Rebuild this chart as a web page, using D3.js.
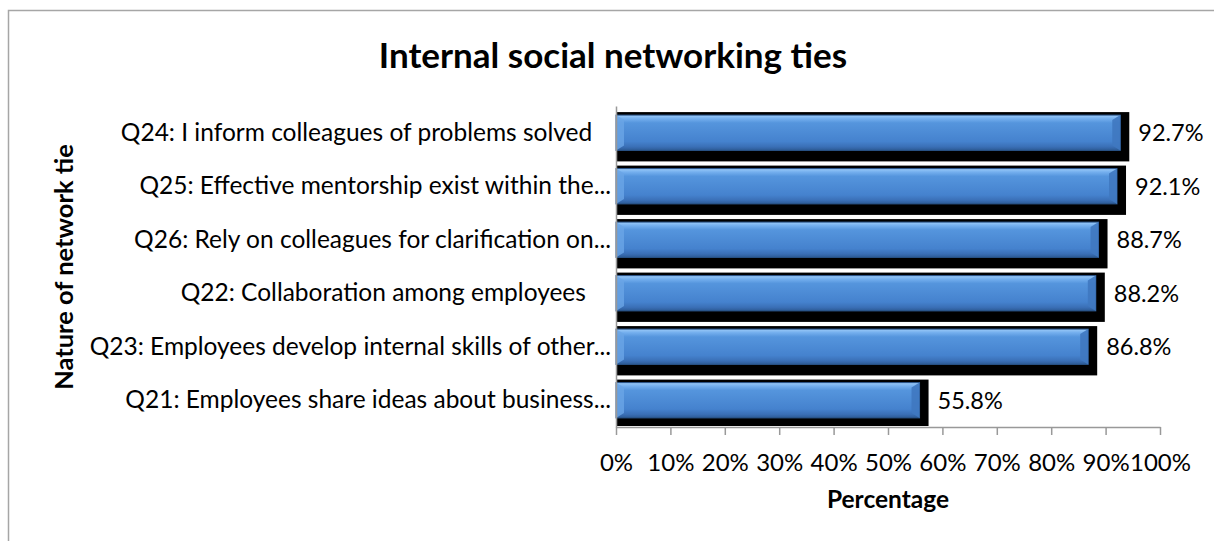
<!DOCTYPE html>
<html>
<head>
<meta charset="utf-8">
<script src="https://cdn.jsdelivr.net/npm/d3@7"></script>
<style>
  body { margin: 0; background: #fff; }
  svg text { font-family: Lato, "Open Sans", sans-serif; fill: #000; }
</style>
</head>
<body>
<svg id="chart" width="1214" height="541"></svg>
<script>
// data, top to bottom as in the picture (trailing spaces are in the original labels)
const categories = [
    "Q24: I inform colleagues of problems solved   ",
    "Q25: Effective mentorship exist within the...",
    "Q26: Rely on colleagues for clarification on...",
    "Q22: Collaboration among employees    ",
    "Q23: Employees develop internal skills of other...",
    "Q21: Employees share ideas about business..."
];
const values = [92.7, 92.1, 88.7, 88.2, 86.8, 55.8];
const tickValues = [0, 10, 20, 30, 40, 50, 60, 70, 80, 90, 100];

const chartTitle = "Internal social networking ties";
const xTitle = "Percentage";
const yTitle = "Nature of network tie";

const svg = d3.select("#chart");
const margin = { top: 106, left: 616, right: 54, bottom: 114 };
const width = 1214 - margin.left - margin.right;
const height = 541 - margin.top - margin.bottom;

// chart frame (only top / left edge visible in the picture)
svg.append("rect")
    .attr("x", 8.5).attr("y", 10.5)
    .attr("width", 1300).attr("height", 700)
    .attr("fill", "none").attr("stroke", "#a6a6a6").attr("stroke-width", 1.5);

// bar gradient
const defs = svg.append("defs");
const grad = defs.append("linearGradient")
    .attr("id", "barGrad").attr("x1", 0).attr("y1", 0).attr("x2", 0).attr("y2", 1);
[["0%", "#9ccbf8"], ["10%", "#74afee"], ["22%", "#5595dd"], ["75%", "#4582ce"], ["90%", "#3a6fb6"], ["100%", "#2c5a95"]]
    .forEach(s => grad.append("stop").attr("offset", s[0]).attr("stop-color", s[1]));

defs.append("clipPath").attr("id", "plotClip")
    .append("rect").attr("x", 0).attr("y", 0).attr("width", width + 60).attr("height", height - 1);

const x = d3.scaleLinear().domain([0, 100]).range([0, width]);
const y = d3.scaleBand().domain(categories).range([0, height]).paddingInner(0.34).paddingOuter(0.17);

const g = svg.append("g").attr("transform", `translate(${margin.left},${margin.top})`);

// title
svg.append("text")
    .attr("x", 613).attr("y", 68)
    .attr("text-anchor", "middle")
    .style("font-size", "35px").style("font-weight", "bold")
    .text(chartTitle);

// shadows
g.append("g").attr("clip-path", "url(#plotClip)")
    .selectAll("rect")
    .data(values)
    .enter().append("rect")
    .attr("x", 0)
    .attr("y", (d, i) => y(categories[i]) - 3)
    .attr("width", d => x(d) + 9)
    .attr("height", y.bandwidth() + 14)
    .attr("fill", "#000");

// bars
const bars = g.append("g").selectAll("g")
    .data(values)
    .enter().append("g")
    .attr("transform", (d, i) => `translate(0,${y(categories[i])})`);

bars.append("rect")
    .attr("x", 0).attr("y", 0)
    .attr("width", d => x(d))
    .attr("height", y.bandwidth())
    .attr("fill", "url(#barGrad)")
    .attr("stroke", "#2b568c").attr("stroke-width", 1);

// bevel on left and right ends
const bh = y.bandwidth();
bars.append("path")
    .attr("d", `M0,0 L8,5 L8,${bh - 5} L0,${bh} Z`)
    .attr("fill", "#6aa5e6").attr("opacity", 0.8);
bars.append("path")
    .attr("d", d => `M${x(d)},0 L${x(d) - 8},5 L${x(d) - 8},${bh - 5} L${x(d)},${bh} Z`)
    .attr("fill", "#3f78c0").attr("opacity", 0.9);

// value labels
g.append("g").selectAll("text")
    .data(values)
    .enter().append("text")
    .attr("x", d => x(d) + 18)
    .attr("y", (d, i) => y(categories[i]) + bh / 2)
    .attr("dy", "0.36em")
    .style("font-size", "23.5px")
    .text(d => d.toFixed(1) + "%");

// x axis
const xAxis = g.append("g")
    .attr("transform", `translate(0,${height})`)
    .call(d3.axisBottom(x).tickValues(tickValues).tickSize(8).tickSizeOuter(0).tickFormat(d => d + "%"));
xAxis.select(".domain").attr("stroke", "#999").attr("stroke-width", 1.5);
xAxis.selectAll(".tick line").attr("stroke", "#999").attr("stroke-width", 1.5);
xAxis.selectAll(".tick text")
    .attr("y", 27)
    .style("font-size", "24px")
    .style("font-family", "Lato, 'Open Sans', sans-serif")
    .attr("fill", "#000");

// y axis
const yAxis = g.append("g")
    .call(d3.axisLeft(y).tickSize(0).tickPadding(5));
yAxis.select(".domain").attr("stroke", "#999").attr("stroke-width", 1.5);
yAxis.selectAll(".tick text")
    .style("font-size", "24.5px")
    .style("white-space", "pre")
    .style("font-family", "Lato, 'Open Sans', sans-serif")
    .attr("fill", "#000");

// axis titles
svg.append("text")
    .attr("x", margin.left + width / 2 + 0).attr("y", 508)
    .attr("text-anchor", "middle")
    .style("font-size", "24.5px").style("font-weight", "bold")
    .text(xTitle);

svg.append("text")
    .attr("transform", "translate(73,267) rotate(-90)")
    .attr("text-anchor", "middle")
    .style("font-size", "25.5px").style("font-weight", "bold")
    .text(yTitle);
</script>
</body>
</html>
